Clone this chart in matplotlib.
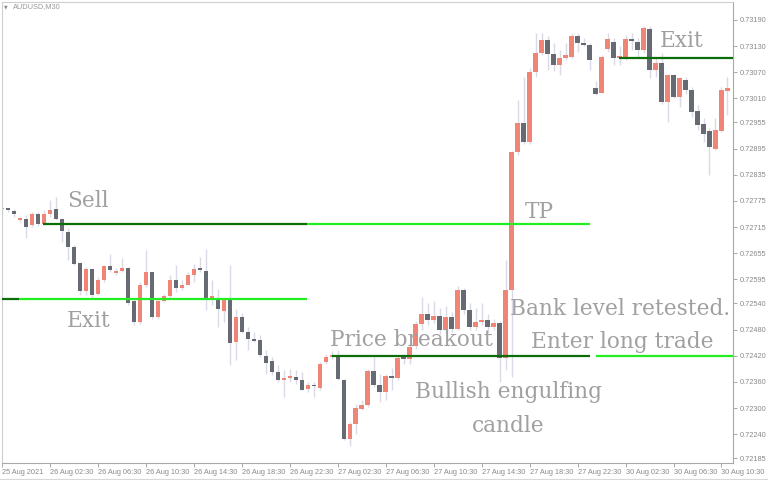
import numpy as np
import matplotlib
matplotlib.use("Agg")
import matplotlib.pyplot as plt
from matplotlib.lines import Line2D

# AUDUSD M30 candles, 25 Aug 22:30 -> 30 Aug 11:00
opens = [
    0.72756, 0.72757, 0.72752, 0.72732, 0.72733, 0.72719, 0.72746, 0.72721, 0.72744, 0.72757,
    0.72733, 0.72704, 0.72669, 0.72633, 0.72568, 0.72618, 0.72561, 0.72593, 0.72626, 0.72610,
    0.72615, 0.72621, 0.72545, 0.72497, 0.72583, 0.72611, 0.72508, 0.72545, 0.72557, 0.72593,
    0.72575, 0.72583, 0.72605, 0.72620, 0.72615, 0.72553, 0.72552, 0.72523, 0.72549, 0.72452,
    0.72509, 0.72475, 0.72459, 0.72455, 0.72419, 0.72409, 0.72382, 0.72365, 0.72368, 0.72371,
    0.72364, 0.72344, 0.72352, 0.72345, 0.72406, 0.72418, 0.72418, 0.72365, 0.72230, 0.72263,
    0.72298, 0.72306, 0.72385, 0.72352, 0.72337, 0.72373, 0.72368, 0.72416, 0.72413, 0.72442,
    0.72492, 0.72515, 0.72503, 0.72512, 0.72478, 0.72508, 0.72482, 0.72570, 0.72524, 0.72486,
    0.72497, 0.72503, 0.72486, 0.72494, 0.72414, 0.72570, 0.72886, 0.72953, 0.72911, 0.73071,
    0.73115, 0.73144, 0.73112, 0.73087, 0.73102, 0.73104, 0.73153, 0.73137, 0.73133, 0.73033,
    0.73023, 0.73123, 0.73140, 0.73102, 0.73106, 0.73146, 0.73140, 0.73121, 0.73169, 0.73075,
    0.73092, 0.73002, 0.73063, 0.73014, 0.73053, 0.73029, 0.72981, 0.72952, 0.72935, 0.72895,
    0.72935, 0.73027,
]
highs = [
    0.72761, 0.72759, 0.72757, 0.72738, 0.72742, 0.72750, 0.72750, 0.72754, 0.72777, 0.72784,
    0.72734, 0.72712, 0.72673, 0.72635, 0.72624, 0.72620, 0.72601, 0.72627, 0.72654, 0.72620,
    0.72643, 0.72624, 0.72547, 0.72589, 0.72662, 0.72612, 0.72551, 0.72562, 0.72604, 0.72627,
    0.72593, 0.72612, 0.72631, 0.72647, 0.72665, 0.72593, 0.72574, 0.72551, 0.72628, 0.72528,
    0.72517, 0.72486, 0.72475, 0.72467, 0.72433, 0.72417, 0.72398, 0.72387, 0.72390, 0.72387,
    0.72383, 0.72360, 0.72360, 0.72406, 0.72425, 0.72430, 0.72433, 0.72367, 0.72268, 0.72310,
    0.72318, 0.72390, 0.72417, 0.72379, 0.72379, 0.72391, 0.72421, 0.72425, 0.72448, 0.72500,
    0.72555, 0.72540, 0.72545, 0.72530, 0.72535, 0.72520, 0.72580, 0.72575, 0.72540, 0.72530,
    0.72540, 0.72515, 0.72505, 0.72500, 0.72640, 0.72890, 0.73006, 0.73060, 0.73080, 0.73160,
    0.73160, 0.73152, 0.73137, 0.73121, 0.73137, 0.73160, 0.73160, 0.73148, 0.73137, 0.73049,
    0.73110, 0.73160, 0.73148, 0.73129, 0.73156, 0.73160, 0.73148, 0.73176, 0.73176, 0.73102,
    0.73113, 0.73067, 0.73067, 0.73059, 0.73059, 0.73037, 0.72994, 0.72964, 0.72941, 0.72964,
    0.73037, 0.73059,
]
lows = [
    0.72742, 0.72750, 0.72738, 0.72727, 0.72689, 0.72715, 0.72718, 0.72719, 0.72738, 0.72731,
    0.72681, 0.72639, 0.72627, 0.72559, 0.72559, 0.72555, 0.72559, 0.72589, 0.72612, 0.72604,
    0.72612, 0.72536, 0.72490, 0.72493, 0.72578, 0.72505, 0.72505, 0.72543, 0.72555, 0.72566,
    0.72570, 0.72581, 0.72589, 0.72612, 0.72524, 0.72536, 0.72486, 0.72498, 0.72398, 0.72410,
    0.72471, 0.72433, 0.72452, 0.72417, 0.72379, 0.72375, 0.72360, 0.72325, 0.72360, 0.72356,
    0.72341, 0.72337, 0.72325, 0.72341, 0.72402, 0.72412, 0.72364, 0.72226, 0.72214, 0.72241,
    0.72295, 0.72302, 0.72348, 0.72314, 0.72318, 0.72341, 0.72364, 0.72402, 0.72402, 0.72435,
    0.72480, 0.72490, 0.72495, 0.72470, 0.72472, 0.72475, 0.72478, 0.72515, 0.72480, 0.72478,
    0.72490, 0.72475, 0.72480, 0.72360, 0.72387, 0.72372, 0.72880, 0.72905, 0.72905, 0.73060,
    0.73110, 0.73075, 0.73072, 0.73064, 0.73098, 0.73102, 0.73117, 0.73129, 0.73075, 0.73018,
    0.73022, 0.73117, 0.73087, 0.73087, 0.73098, 0.73121, 0.73102, 0.73114, 0.73056, 0.73059,
    0.72998, 0.72956, 0.73010, 0.72991, 0.73021, 0.72968, 0.72937, 0.72910, 0.72834, 0.72891,
    0.72933, 0.72971,
]
closes = [
    0.72757, 0.72755, 0.72744, 0.72734, 0.72715, 0.72746, 0.72721, 0.72744, 0.72754, 0.72734,
    0.72705, 0.72669, 0.72631, 0.72568, 0.72618, 0.72560, 0.72593, 0.72625, 0.72616, 0.72614,
    0.72621, 0.72542, 0.72497, 0.72583, 0.72611, 0.72508, 0.72545, 0.72557, 0.72593, 0.72575,
    0.72583, 0.72605, 0.72618, 0.72617, 0.72553, 0.72556, 0.72526, 0.72547, 0.72449, 0.72509,
    0.72475, 0.72459, 0.72454, 0.72421, 0.72403, 0.72383, 0.72364, 0.72369, 0.72374, 0.72364,
    0.72342, 0.72352, 0.72350, 0.72402, 0.72417, 0.72420, 0.72367, 0.72230, 0.72263, 0.72299,
    0.72306, 0.72385, 0.72352, 0.72337, 0.72373, 0.72368, 0.72414, 0.72413, 0.72440, 0.72492,
    0.72515, 0.72503, 0.72512, 0.72478, 0.72508, 0.72482, 0.72570, 0.72524, 0.72486, 0.72497,
    0.72503, 0.72486, 0.72494, 0.72414, 0.72570, 0.72886, 0.72953, 0.72911, 0.73071, 0.73115,
    0.73144, 0.73112, 0.73087, 0.73102, 0.73110, 0.73153, 0.73138, 0.73133, 0.73098, 0.73020,
    0.73104, 0.73146, 0.73102, 0.73107, 0.73146, 0.73142, 0.73121, 0.73171, 0.73075, 0.73092,
    0.73002, 0.73063, 0.73014, 0.73057, 0.73029, 0.72979, 0.72949, 0.72929, 0.72899, 0.72937,
    0.73029, 0.73033,
]

time_labels = ["25 Aug 2021", "26 Aug 02:30", "26 Aug 06:30", "26 Aug 10:30",
               "26 Aug 14:30", "26 Aug 18:30", "26 Aug 22:30", "27 Aug 02:30",
               "27 Aug 06:30", "27 Aug 10:30", "27 Aug 14:30", "27 Aug 18:30",
               "27 Aug 22:30", "30 Aug 02:30", "30 Aug 06:30", "30 Aug 10:30"]
price_ticks = [0.73190, 0.73130, 0.73070, 0.73010, 0.72955, 0.72895, 0.72835, 0.72775,
               0.72715, 0.72655, 0.72595, 0.72540, 0.72480, 0.72420, 0.72360, 0.72300,
               0.72240, 0.72185]

# trade levels: (price, start bar, end bar, colour)
DARK = "#0b6e0b"
LIME = "#22ee22"
levels = [
    (0.72722, 6.9, 50.9, DARK),    # sell
    (0.72722, 50.9, 98.1, LIME),   # TP
    (0.72551, 0.0, 2.9, DARK),     # exit
    (0.72551, 2.9, 50.9, LIME),
    (0.72419, 55.1, 98.1, DARK),   # breakout
    (0.72419, 99.1, 122.0, LIME),  # long entry
    (0.73103, 102.9, 122.0, DARK), # exit long
]

o = np.array(opens)
h = np.array(highs)
l = np.array(lows)
c = np.array(closes)
x = np.arange(len(o))

UP = "#f08575"
DOWN = "#666b73"
WICK = "#dadae6"
TXT = "#a0a0a0"

fig = plt.figure(figsize=(7.68, 4.8), dpi=100)
fig.patch.set_facecolor("white")
ax = fig.add_axes([2 / 768, 17 / 480, 731 / 768, 461 / 480])

ax.vlines(x, l, h, color=WICK, lw=1.0, zorder=1)
body = np.maximum(np.abs(c - o), 0.00003)
ax.bar(x, body, bottom=np.minimum(o, c), width=0.75,
       color=np.where(c >= o, UP, DOWN), zorder=2)

for price, x0, x1, col in levels:
    ax.hlines(price, x0, x1, color=col, lw=1.6, zorder=3)

ax.set_xlim(0.083, 121.92)
ax.set_ylim(0.72174, 0.73231)

# annotations
font = dict(family="DejaVu Serif", color=TXT, fontsize=15.6, zorder=4)
ax.text(10.9, 0.72761, "Sell", **font)
ax.text(10.75, 0.72486, "Exit", **font)
ax.text(87.25, 0.72736, "TP", **font)
ax.text(109.75, 0.73128, "Exit", **font)
ax.text(54.75, 0.72442, "Price breakout", **font)
ax.text(84.75, 0.72513, "Bank level retested.", **font)
ax.text(88.25, 0.72437, "Enter long trade", **font)
ax.text(84.4, 0.72323, "Bullish engulfing", ha="center", **font)
ax.text(84.4, 0.72245, "candle", ha="center", **font)

# axes styling like the terminal
ax.yaxis.tick_right()
ax.set_yticks(price_ticks)
ax.set_yticklabels([f"{p:.5f}" for p in price_ticks])
ax.set_xticks(np.arange(0, 121, 8))
ax.set_xticklabels(time_labels, ha="left")
ax.tick_params(axis="both", direction="out", length=3, width=0.6,
               color="#9a9a9a", labelcolor="#8a8a8a", labelsize=5.3, pad=1.5)
for lab in ax.get_xticklabels() + ax.get_yticklabels():
    lab.set_family("Liberation Sans")
for side in ["left", "top"]:
    ax.spines[side].set_color("#cfcfcf")
for side in ["right", "bottom"]:
    ax.spines[side].set_color("#a8a8a8")
for s in ax.spines.values():
    s.set_linewidth(0.8)

fig.text(4 / 768, 1 - 7 / 480, "\u25bc", fontsize=3.5, color="#8a8a8a",
         va="center", family="DejaVu Sans")
fig.text(13 / 768, 1 - 7 / 480, "AUDUSD,M30", fontsize=5.3, color="#9a9a9a",
         va="center", family="Liberation Sans")
fig.add_artist(Line2D([0, 1], [1 - 478.5 / 480] * 2, color="#d8d8d8", lw=0.8))

fig.savefig("out.png", dpi=100)
